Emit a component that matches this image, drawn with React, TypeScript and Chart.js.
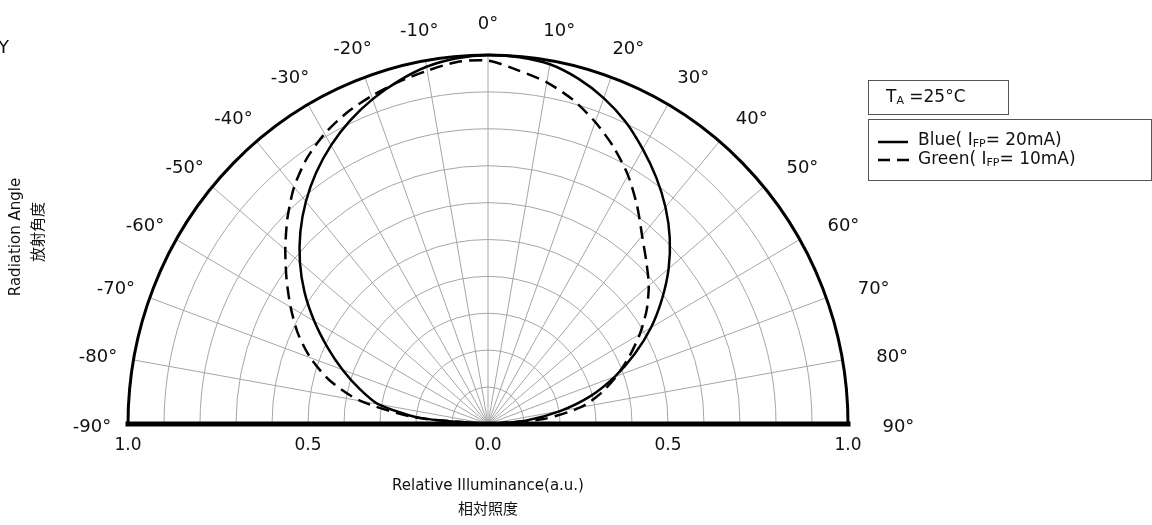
import React, { useEffect, useRef } from "react";
import { Chart, registerables } from "chart.js";

Chart.register(...registerables);

// Emission angle (degrees, 0 = on-axis) and relative illuminance per curve
const ANGLES = [
  -90, -85, -80, -75, -70, -65, -60, -55, -50, -45, -40, -35, -30, -25, -20, -15, -10, -5,
  0, 5, 10, 15, 20, 25, 30, 35, 40, 45, 50, 55, 60, 65, 70, 75, 80, 85, 90,
];
const BLUE_IFP20 = [
  0, 0.19, 0.31, 0.37, 0.43, 0.492, 0.557, 0.622, 0.682, 0.737, 0.787, 0.832, 0.872, 0.907, 0.937, 0.962, 0.983, 0.995,
  1.0, 0.998, 0.99, 0.969, 0.94, 0.904, 0.86, 0.815, 0.767, 0.714, 0.655, 0.59, 0.523, 0.45, 0.375, 0.297, 0.205, 0.105, 0,
];
const GREEN_IFP10 = [
  0, 0.2, 0.36, 0.455, 0.525, 0.583, 0.633, 0.683, 0.735, 0.788, 0.838, 0.878, 0.908, 0.93, 0.946, 0.96, 0.972, 0.985,
  0.985, 0.962, 0.94, 0.91, 0.871, 0.827, 0.778, 0.722, 0.666, 0.622, 0.583, 0.538, 0.487, 0.433, 0.38, 0.326, 0.262, 0.155, 0,
];

// Angle labels around the rim, grid rings and spokes
const ANGLE_TICKS = [-90, -80, -70, -60, -50, -40, -30, -20, -10, 0, 10, 20, 30, 40, 50, 60, 70, 80, 90];
const RING_VALUES = [0.1, 0.2, 0.3, 0.4, 0.5, 0.6, 0.7, 0.8, 0.9];
const SPOKE_ANGLES = [-80, -70, -60, -50, -40, -30, -20, -10, 0, 10, 20, 30, 40, 50, 60, 70, 80];

// Radial axis labels along the base line
const X_TICK_VALUES = [-1, -0.5, 0, 0.5, 1];
const X_TICK_LABELS = ["1.0", "0.5", "0.0", "0.5", "1.0"];

const FONT = '"DejaVu Sans", Verdana, sans-serif';
const CJK = '"Noto Sans CJK JP", "Noto Sans CJK SC", sans-serif';

const rad = (d: number) => (d * Math.PI) / 180;

const toXY = (values: number[]) =>
  ANGLES.map((a, i) => ({ x: values[i] * Math.sin(rad(a)), y: values[i] * Math.cos(rad(a)) }));

// Draws a run of text where parts may be subscripts; returns the end x
function richText(
  ctx: CanvasRenderingContext2D,
  parts: { t: string; sub?: boolean }[],
  x: number,
  y: number,
  size: number
) {
  let cx = x;
  for (const p of parts) {
    if (p.sub) {
      ctx.font = `${Math.round(size * 0.62)}px ${FONT}`;
      ctx.fillText(p.t, cx, y + size * 0.2);
    } else {
      ctx.font = `${size}px ${FONT}`;
      ctx.fillText(p.t, cx, y);
    }
    cx += ctx.measureText(p.t).width;
  }
  return cx;
}

const polarFrame = {
  id: "polarFrame",
  beforeDatasetsDraw(chart: any) {
    const { ctx, scales } = chart;
    const xs = scales.x;
    const ys = scales.y;
    const cx = xs.getPixelForValue(0);
    const cy = ys.getPixelForValue(0);
    const rx = xs.getPixelForValue(1) - cx;
    const ry = cy - ys.getPixelForValue(1);
    ctx.save();
    ctx.strokeStyle = "#a6a6a6";
    ctx.lineWidth = 1;
    for (const r of RING_VALUES) {
      ctx.beginPath();
      ctx.ellipse(cx, cy, rx * r, ry * r, 0, Math.PI, 2 * Math.PI);
      ctx.stroke();
    }
    for (const a of SPOKE_ANGLES) {
      ctx.beginPath();
      ctx.moveTo(cx, cy);
      ctx.lineTo(xs.getPixelForValue(Math.sin(rad(a))), ys.getPixelForValue(Math.cos(rad(a))));
      ctx.stroke();
    }
    ctx.restore();
  },
  afterDatasetsDraw(chart: any) {
    const { ctx, scales } = chart;
    const xs = scales.x;
    const ys = scales.y;
    const cx = xs.getPixelForValue(0);
    const cy = ys.getPixelForValue(0);
    const rx = xs.getPixelForValue(1) - cx;
    const ry = cy - ys.getPixelForValue(1);
    ctx.save();
    // outer rim
    ctx.strokeStyle = "#000";
    ctx.lineWidth = 3;
    ctx.beginPath();
    ctx.ellipse(cx, cy, rx, ry, 0, Math.PI, 2 * Math.PI);
    ctx.stroke();
    // base line
    ctx.lineWidth = 5;
    ctx.lineCap = "square";
    ctx.beginPath();
    ctx.moveTo(xs.getPixelForValue(-1), cy);
    ctx.lineTo(xs.getPixelForValue(1), cy);
    ctx.stroke();

    ctx.fillStyle = "#111";
    // angle labels around the rim
    ctx.font = `18px ${FONT}`;
    ctx.textAlign = "center";
    ctx.textBaseline = "middle";
    for (const a of ANGLE_TICKS) {
      const k = a < 0 ? 1.1 : 1.14;
      const lx = cx + rx * k * Math.sin(rad(a));
      const ly = cy + 3 - ry * 1.09 * Math.cos(rad(a));
      ctx.fillText(`${a}°`, lx, ly);
    }
    // radial value labels
    ctx.font = `17px ${FONT}`;
    X_TICK_VALUES.forEach((v, i) => {
      ctx.fillText(X_TICK_LABELS[i], xs.getPixelForValue(v), cy + 22);
    });
    // axis titles
    ctx.font = `15px ${FONT}`;
    ctx.fillText("Relative Illuminance(a.u.)", cx, cy + 62);
    ctx.font = `15px ${CJK}`;
    ctx.fillText("相対照度", cx, cy + 84);

    ctx.save();
    ctx.translate(16, 237);
    ctx.rotate(-Math.PI / 2);
    ctx.font = `15px ${FONT}`;
    ctx.fillText("Radiation Angle", 0, 0);
    ctx.restore();
    ctx.save();
    ctx.translate(37, 232);
    ctx.rotate(-Math.PI / 2);
    ctx.font = `15px ${CJK}`;
    ctx.fillText("放射角度", 0, 0);
    ctx.restore();

    ctx.font = `18px ${FONT}`;
    ctx.textAlign = "left";
    ctx.fillText("Y", -2, 48);

    // condition box
    ctx.strokeStyle = "#555";
    ctx.lineWidth = 1;
    ctx.strokeRect(868.5, 80.5, 140, 34);
    ctx.textBaseline = "middle";
    richText(ctx, [{ t: "T" }, { t: "A", sub: true }, { t: " =25°C" }], 886, 98, 17);

    // legend box
    ctx.strokeRect(868.5, 119.5, 283, 61);
    ctx.strokeStyle = "#000";
    ctx.lineWidth = 2.5;
    ctx.lineCap = "butt";
    ctx.beginPath();
    ctx.moveTo(878, 142);
    ctx.lineTo(908, 142);
    ctx.stroke();
    ctx.setLineDash([12, 7]);
    ctx.beginPath();
    ctx.moveTo(878, 160);
    ctx.lineTo(909, 160);
    ctx.stroke();
    ctx.setLineDash([]);
    richText(ctx, [{ t: "Blue( I" }, { t: "FP", sub: true }, { t: "= 20mA)" }], 918, 141, 17);
    richText(ctx, [{ t: "Green( I" }, { t: "FP", sub: true }, { t: "= 10mA)" }], 918, 160, 17);
    ctx.restore();
  },
};

export default function App() {
  const ref = useRef<HTMLCanvasElement | null>(null);

  useEffect(() => {
    if (!ref.current) return;
    const chart = new Chart(ref.current, {
      type: "scatter",
      data: {
        datasets: [
          {
            label: "Blue",
            data: toXY(BLUE_IFP20),
            showLine: true,
            borderColor: "#000",
            borderWidth: 2.5,
            pointRadius: 0,
            tension: 0.25,
            clip: false as any,
          },
          {
            label: "Green",
            data: toXY(GREEN_IFP10),
            showLine: true,
            borderColor: "#000",
            borderWidth: 2.5,
            borderDash: [13, 7],
            pointRadius: 0,
            tension: 0.25,
            clip: false as any,
          },
        ],
      },
      options: {
        animation: false,
        responsive: false,
        devicePixelRatio: 1,
        layout: { padding: { left: 128, right: 304, top: 55, bottom: 101 } },
        scales: {
          x: { type: "linear", min: -1, max: 1, display: false },
          y: { type: "linear", min: 0, max: 1, display: false },
        },
        plugins: {
          legend: { display: false },
          tooltip: { enabled: false },
        },
      },
      plugins: [polarFrame],
    });
    return () => chart.destroy();
  }, []);

  return (
    <div style={{ position: "absolute", left: 0, top: 0, width: 1152, height: 525, background: "#fff" }}>
      <canvas ref={ref} width={1152} height={525} />
    </div>
  );
}
